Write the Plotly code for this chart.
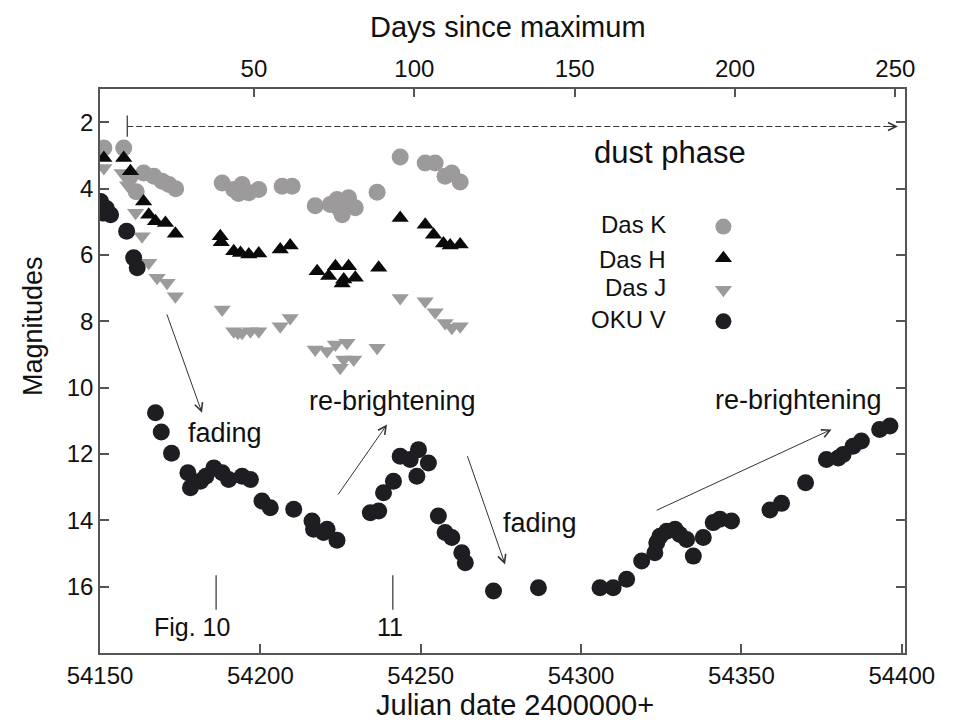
import plotly.graph_objects as go

# ---------------- data (JD 2400000+, magnitude) ----------------
k_jd = [54151.2, 54157.4, 54159.3, 54161.3, 54163.6, 54166.8, 54169.4, 54171.5, 54173.6,
        54188.1, 54191.7, 54193.2, 54194.3, 54196.4, 54199.5, 54206.8, 54209.9,
        54217.1, 54221.8, 54223.9, 54224.6, 54225.5, 54227.5, 54229.6, 54236.4,
        54243.6, 54251.4, 54254.5, 54257.6, 54259.7, 54262.3]
k_mag = [2.78, 2.78, 3.65, 4.10, 3.53, 3.63, 3.78, 3.88, 4.01,
         3.83, 4.03, 4.15, 3.88, 4.13, 4.03, 3.93, 3.93,
         4.52, 4.48, 4.33, 4.60, 4.79, 4.28, 4.58, 4.11,
         3.05, 3.23, 3.23, 3.63, 3.53, 3.80]

h_jd = [54151.2, 54157.4, 54159.5, 54163.6, 54165.2, 54167.3, 54170.4, 54173.5,
        54187.5, 54187.8, 54191.7, 54193.8, 54196.4, 54199.5, 54206.2, 54209.3,
        54217.7, 54221.3, 54223.4, 54226.0, 54227.5, 54229.6, 54225.5, 54236.9,
        54243.6, 54251.4, 54254.0, 54257.1, 54259.2, 54262.3]
h_mag = [3.08, 3.08, 3.48, 4.39, 4.79, 4.99, 5.04, 5.36,
         5.44, 5.62, 5.89, 5.94, 5.99, 5.96, 5.84, 5.72,
         6.49, 6.64, 6.34, 6.74, 6.34, 6.69, 6.86, 6.39,
         4.89, 5.09, 5.39, 5.66, 5.72, 5.69]

j_jd = [54151.2, 54156.9, 54158.6, 54161.1, 54163.1, 54165.2, 54167.8, 54170.9, 54173.5,
        54188.1, 54191.7, 54193.0, 54194.3, 54196.9, 54199.5, 54206.2, 54209.3,
        54217.1, 54220.8, 54223.4, 54227.0, 54226.0, 54229.1, 54224.9, 54236.4,
        54243.6, 54251.4, 54254.5, 54257.6, 54259.7, 54262.3]
j_mag = [3.38, 3.53, 3.90, 4.73, 5.44, 6.24, 6.69, 6.84, 7.25,
         7.65, 8.30, 8.35, 8.35, 8.30, 8.30, 8.15, 7.90,
         8.85, 8.90, 8.70, 8.65, 9.15, 9.15, 9.40, 8.80,
         7.30, 7.40, 7.73, 8.05, 8.20, 8.15]

v_jd = [54150.2, 54151.2, 54152.0, 54153.3, 54158.3, 54160.5, 54161.6,
        54167.3, 54169.1, 54172.3, 54177.4, 54178.2, 54181.3, 54183.0, 54185.5,
        54188.1, 54190.1, 54194.3, 54196.9, 54200.5, 54203.1, 54210.4,
        54216.1, 54216.6, 54219.7, 54220.8, 54223.9,
        54234.3, 54236.9, 54238.4, 54241.5, 54243.6, 54246.7, 54249.3, 54248.8, 54252.4,
        54255.5, 54257.6, 54259.7, 54262.8, 54263.9, 54272.7, 54286.7,
        54305.9, 54310.0, 54314.2, 54318.9, 54323.0, 54323.6, 54324.6, 54326.7,
        54329.3, 54330.8, 54332.9, 54335.0, 54338.1, 54341.2, 54343.3, 54346.9,
        54358.9, 54362.5, 54370.0, 54376.5, 54380.2, 54381.7, 54384.8, 54387.4,
        54393.1, 54396.3]
v_mag = [4.39, 4.74, 4.60, 4.79, 5.29, 6.09, 6.39,
         10.76, 11.34, 11.98, 12.57, 13.02, 12.82, 12.67, 12.42,
         12.57, 12.77, 12.67, 12.77, 13.42, 13.62, 13.67,
         14.02, 14.27, 14.37, 14.27, 14.60,
         13.77, 13.72, 13.17, 12.82, 12.07, 12.17, 11.87, 12.67, 12.27,
         13.87, 14.37, 14.52, 14.98, 15.28, 16.13, 16.03,
         16.03, 16.03, 15.78, 15.23, 14.98, 14.68, 14.48, 14.33,
         14.27, 14.43, 14.58, 15.08, 14.52, 14.07, 13.97, 14.02,
         13.69, 13.49, 12.87, 12.17, 12.12, 12.02, 11.77, 11.61,
         11.26, 11.16]

series_names = ["Das K", "Das H", "Das J", "OKU V"]
x_ticks = [54150, 54200, 54250, 54300, 54350, 54400]
y_ticks = [2, 4, 6, 8, 10, 12, 14, 16]
day_ticks = [50, 100, 150, 200, 250]
jd_of_maximum = 54148
x_range = [54150, 54401]
y_range = [18, 1]

# ---------------- figure ----------------
FONT = "Liberation Sans, Arial, Helvetica, sans-serif"
TXT = "#111111"
AX = "#555555"
GREY = "#9c9a9a"

fig = go.Figure()

fig.add_trace(go.Scatter(x=k_jd, y=k_mag, mode="markers", name="",
                         marker=dict(symbol="circle", size=17, color=GREY, line=dict(width=0)),
                         legendrank=1))
fig.add_trace(go.Scatter(x=j_jd, y=j_mag, mode="markers", name="",
                         marker=dict(symbol="triangle-down", size=15, color=GREY, line=dict(width=0)),
                         legendrank=3))
fig.add_trace(go.Scatter(x=h_jd, y=h_mag, mode="markers", name="",
                         marker=dict(symbol="triangle-up", size=15, color="#0a0a0a", line=dict(width=0)),
                         legendrank=2))
fig.add_trace(go.Scatter(x=v_jd, y=v_mag, mode="markers", name="",
                         marker=dict(symbol="circle", size=17, color="#1d1d22", line=dict(width=0)),
                         legendrank=4))

# invisible trace to anchor the top axis
fig.add_trace(go.Scatter(x=[d for d in day_ticks], y=[None] * len(day_ticks), xaxis="x2",
                         mode="markers", showlegend=False, hoverinfo="skip"))

fig.update_layout(
    width=959, height=724, autosize=False,
    margin=dict(l=100, r=54, t=89, b=71),
    paper_bgcolor="white", plot_bgcolor="white",
    font=dict(family=FONT, size=24, color=TXT),
    showlegend=True,
    legend=dict(x=0.7496, y=0.793, xanchor="left", yanchor="top",
                bgcolor="rgba(0,0,0,0)", font=dict(size=22), traceorder="normal",
                itemclick=False),
    xaxis=dict(range=x_range, tickvals=x_ticks, tickformat="d", ticks="inside", ticklen=9,
               tickwidth=1.5, tickcolor=AX, showline=True, linecolor=AX, linewidth=1.5,
               mirror=True, showgrid=False, zeroline=False, tickfont=dict(size=24, color=TXT),
               ticklabelstandoff=0),
    xaxis2=dict(range=[x_range[0] - jd_of_maximum, x_range[1] - jd_of_maximum],
                overlaying="x", side="top", tickvals=day_ticks, ticks="inside", ticklen=8,
                tickwidth=1.5, tickcolor=AX, showline=False, showgrid=False, zeroline=False,
                tickfont=dict(size=24, color=TXT), ticklabelstandoff=6),
    yaxis=dict(range=y_range, tickvals=y_ticks, ticks="inside", ticklen=9, tickwidth=1.5,
               tickcolor=AX, showline=True, linecolor=AX, linewidth=1.5, mirror="ticks",
               showgrid=False, zeroline=False, tickfont=dict(size=24, color=TXT)),
)

# axis titles
fig.add_annotation(text="Days since maximum", xref="paper", yref="paper", x=0.507, y=1.11,
                   showarrow=False, font=dict(size=29), xanchor="center", yanchor="middle")
fig.add_annotation(text="Julian date 2400000+", xref="paper", yref="paper", x=0.5155, y=-0.092,
                   showarrow=False, font=dict(size=29), xanchor="center", yanchor="middle")
fig.add_annotation(text="Magnitudes", xref="paper", yref="paper", x=-0.083, y=0.58,
                   showarrow=False, font=dict(size=27), textangle=-90,
                   xanchor="center", yanchor="middle")

# legend labels (text sits left of the symbols)
label_mags = [5.09, 6.14, 6.98, 7.95]
for name, m in zip(series_names, label_mags):
    fig.add_annotation(text=name, x=54327.1, y=m, xref="x", yref="y", showarrow=False,
                       xanchor="right", yanchor="middle", font=dict(size=24))

# dust phase marker
fig.add_shape(type="line", x0=54158.5, x1=54397.5, y0=2.13, y1=2.13, xref="x", yref="y",
              line=dict(color="#333333", width=1, dash="6px,3px"))
fig.add_shape(type="line", x0=54158.5, x1=54158.5, y0=1.8, y1=2.44, xref="x", yref="y",
              line=dict(color="#333333", width=1.2))
fig.add_annotation(x=54398.8, y=2.13, ax=54395.5, ay=2.13, xref="x", yref="y", axref="x", ayref="y",
                   text="", showarrow=True, arrowhead=5, arrowsize=1.6, arrowwidth=1, arrowcolor="#333333")
fig.add_annotation(text="dust phase", x=54327.7, y=2.92, xref="x", yref="y", showarrow=False,
                   font=dict(size=31), xanchor="center", yanchor="middle")

# trend arrows and labels
arrows = [
    (54170.7, 7.75, 54181.8, 10.76),
    (54223.9, 13.27, 54239.5, 11.11),
    (54264.4, 12.02, 54276.3, 15.33),
    (54323.1, 13.72, 54378.1, 11.26),
]
for x0, y0, x1, y1 in arrows:
    fig.add_annotation(x=x1, y=y1, ax=x0, ay=y0, xref="x", yref="y", axref="x", ayref="y",
                       text="", showarrow=True, arrowhead=5, arrowsize=1.6, arrowwidth=1,
                       arrowcolor="#333333")
labels = [("fading", 54189.1, 11.36), ("re-brightening", 54241.1, 10.41),
          ("fading", 54287.2, 14.07), ("re-brightening", 54367.9, 10.36)]
for t, x, y in labels:
    fig.add_annotation(text=t, x=x, y=y, xref="x", yref="y", showarrow=False,
                       font=dict(size=27), xanchor="center", yanchor="middle")

# figure references
for xv, lab, lx in [(54186.2, "Fig. 10", 54178.7), (54241.3, "11", 54240.5)]:
    fig.add_shape(type="line", x0=xv, x1=xv, y0=15.66, y1=16.70, xref="x", yref="y",
                  line=dict(color="#333333", width=1.2))
    fig.add_annotation(text=lab, x=lx, y=17.23, xref="x", yref="y", showarrow=False,
                       font=dict(size=25), xanchor="center", yanchor="middle")

fig.write_html("out.html")
